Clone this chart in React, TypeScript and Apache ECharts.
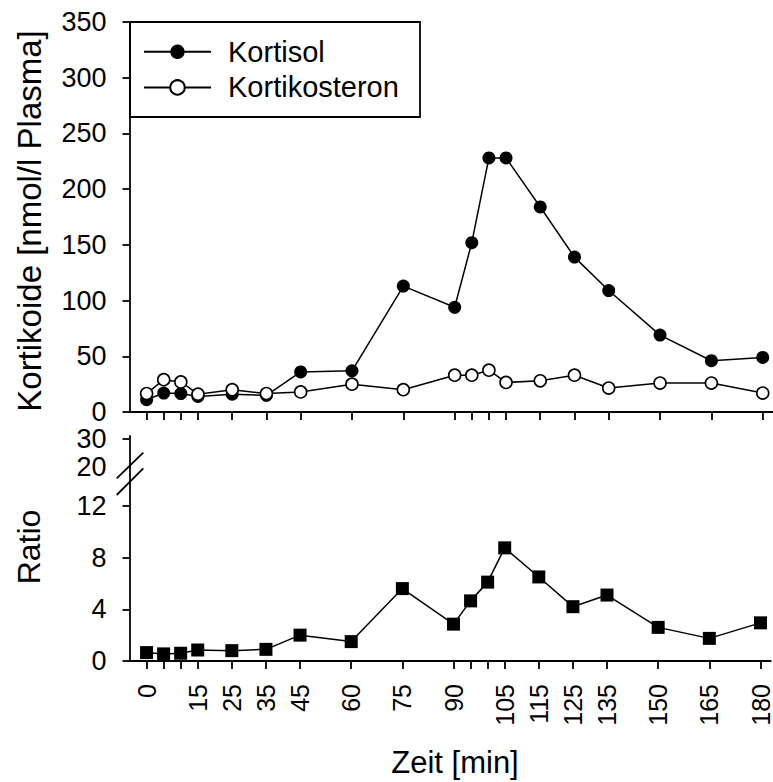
import React, { useEffect, useRef } from "react";
import * as echarts from "echarts";

// Time points (min)
const times = [0, 5, 10, 15, 25, 35, 45, 60, 75, 90, 95, 100, 105, 115, 125, 135, 150, 165, 180];
// Kortisol (nmol/l Plasma)
const kortisol = [11, 17, 16.5, 14, 16, 15, 36, 37, 113, 94, 152, 228, 228, 184, 139, 109, 69, 46, 49];
// Kortikosteron (nmol/l Plasma)
const kortikosteron = [16.5, 29, 27, 16, 20, 16.5, 18, 25, 20, 33, 33, 37.5, 26.5, 28, 33, 21.5, 26, 26, 17];
// Ratio
const ratio = [0.65, 0.55, 0.6, 0.85, 0.8, 0.9, 2.0, 1.5, 5.6, 2.85, 4.65, 6.1, 8.75, 6.5, 4.2, 5.1, 2.6, 1.75, 2.95];

// Tick labels
const xLabelValues = [0, 15, 25, 35, 45, 60, 75, 90, 105, 115, 125, 135, 150, 165, 180];
const ratioLowTicks = [0, 4, 8, 12];
const ratioHighTicks = [20, 30];

const FONT = '"Liberation Sans", Arial, Helvetica, sans-serif';

// broken axis: values above the break are compressed
const BREAK_AT = 15;
const BREAK_SCALE = 0.216;
const mapBreak = (v: number) => BREAK_AT + (v - 20) * BREAK_SCALE;

export default function App() {
  const ref = useRef<HTMLDivElement>(null);
  useEffect(() => {
    if (!ref.current) return;
    const chart = echarts.init(ref.current, null, { renderer: "svg" });

    const ratioLabelDisplay = [...ratioLowTicks, ...ratioHighTicks.map(mapBreak)];
    const ratioLabelText = [...ratioLowTicks, ...ratioHighTicks].map(String);
    const ratioTickDisplay = [...ratioLowTicks, mapBreak(ratioHighTicks[1])];

    const axisLine = { show: true, onZero: false, lineStyle: { color: "#000", width: 1.8 } };

    chart.setOption({
      animation: false,
      backgroundColor: "#fff",
      textStyle: { fontFamily: FONT, color: "#000" },
      grid: [
        { left: 129.5, right: 0, top: 22, height: 390 },
        { left: 129.5, right: 0, top: 436, height: 225 },
      ],
      xAxis: [
        {
          gridIndex: 0,
          type: "value",
          min: -5,
          max: 183,
          axisLine,
          axisTick: { show: true, customValues: times, length: 8, lineStyle: { color: "#000", width: 1.8 } },
          axisLabel: { show: false },
          splitLine: { show: false },
        },
        {
          gridIndex: 1,
          type: "value",
          min: -5,
          max: 183,
          axisLine,
          axisTick: { show: true, customValues: times, length: 8, lineStyle: { color: "#000", width: 1.8 } },
          axisLabel: {
            show: true,
            customValues: xLabelValues,
            rotate: 90,
            margin: 23,
            fontSize: 25,
            fontFamily: FONT,
            color: "#000",
            showMinLabel: true,
            showMaxLabel: true,
          },
          splitLine: { show: false },
        },
      ],
      yAxis: [
        {
          gridIndex: 0,
          type: "value",
          min: 0,
          max: 350,
          interval: 50,
          axisLine,
          axisTick: { show: true, length: 7, lineStyle: { color: "#000", width: 1.8 } },
          axisLabel: { fontSize: 27, margin: 23, color: "#000", fontFamily: FONT },
          splitLine: { show: false },
        },
        {
          gridIndex: 1,
          type: "value",
          min: 0,
          max: 17.4,
          axisLine,
          axisTick: { show: true, length: 7, customValues: ratioTickDisplay, lineStyle: { color: "#000", width: 1.8 } },
          axisLabel: {
            fontSize: 27,
            margin: 23,
            color: "#000",
            fontFamily: FONT,
            customValues: ratioLabelDisplay,
            formatter: (v: number) => {
              const i = ratioLabelDisplay.findIndex((d) => Math.abs(d - v) < 1e-6);
              return i >= 0 ? ratioLabelText[i] : "";
            },
          },
          splitLine: { show: false },
        },
      ],
      legend: {
        data: ["Kortisol", "Kortikosteron"],
        orient: "vertical",
        left: 143,
        top: 34,
        padding: 0,
        itemGap: 0,
        itemWidth: 67,
        itemHeight: 18,
        textStyle: {
          fontSize: 29,
          lineHeight: 35.6,
          color: "#000",
          fontFamily: FONT,
          padding: [0, 0, 0, 12],
        },
      },
      series: [
        {
          name: "Kortisol",
          type: "line",
          xAxisIndex: 0,
          yAxisIndex: 0,
          data: times.map((t, i) => [t, kortisol[i]]),
          symbol: "circle",
          symbolSize: 13,
          itemStyle: { color: "#000" },
          lineStyle: { color: "#000", width: 1.5 },
        },
        {
          name: "Kortikosteron",
          type: "line",
          xAxisIndex: 0,
          yAxisIndex: 0,
          data: times.map((t, i) => [t, kortikosteron[i]]),
          symbol: "circle",
          symbolSize: 12,
          itemStyle: { color: "#fff", borderColor: "#000", borderWidth: 1.6 },
          lineStyle: { color: "#000", width: 1.5 },
        },
        {
          name: "Ratio",
          type: "line",
          xAxisIndex: 1,
          yAxisIndex: 1,
          data: times.map((t, i) => [t, ratio[i]]),
          symbol: "rect",
          symbolSize: 13,
          itemStyle: { color: "#000" },
          lineStyle: { color: "#000", width: 1.5 },
        },
      ],
      graphic: [
        {
          type: "rect",
          shape: { x: 130, y: 22, width: 290, height: 95 },
          style: { fill: "none", stroke: "#000", lineWidth: 1.8 },
          z: 10,
        },
        {
          type: "line",
          shape: { x1: 116.7, y1: 478.3, x2: 143.3, y2: 452.7 },
          style: { stroke: "#000", lineWidth: 1.8 },
          z: 10,
        },
        {
          type: "line",
          shape: { x1: 116.7, y1: 495, x2: 143.3, y2: 468.3 },
          style: { stroke: "#000", lineWidth: 1.8 },
          z: 10,
        },
        {
          type: "text",
          x: 29,
          y: 221,
          rotation: Math.PI / 2,
          style: {
            text: "Kortikoide [nmol/l Plasma]",
            fontSize: 33,
            fontFamily: FONT,
            fill: "#000",
            align: "center",
            verticalAlign: "middle",
          },
        },
        {
          type: "text",
          x: 29,
          y: 547,
          rotation: Math.PI / 2,
          style: {
            text: "Ratio",
            fontSize: 32,
            fontFamily: FONT,
            fill: "#000",
            align: "center",
            verticalAlign: "middle",
          },
        },
        {
          type: "text",
          x: 455,
          y: 762,
          style: {
            text: "Zeit [min]",
            fontSize: 31,
            fontFamily: FONT,
            fill: "#000",
            align: "center",
            verticalAlign: "middle",
          },
        },
      ],
    });
    return () => chart.dispose();
  }, []);

  return (
    <div
      ref={ref}
      style={{ position: "absolute", left: 0, top: 0, width: 773, height: 782, background: "#fff" }}
    />
  );
}
